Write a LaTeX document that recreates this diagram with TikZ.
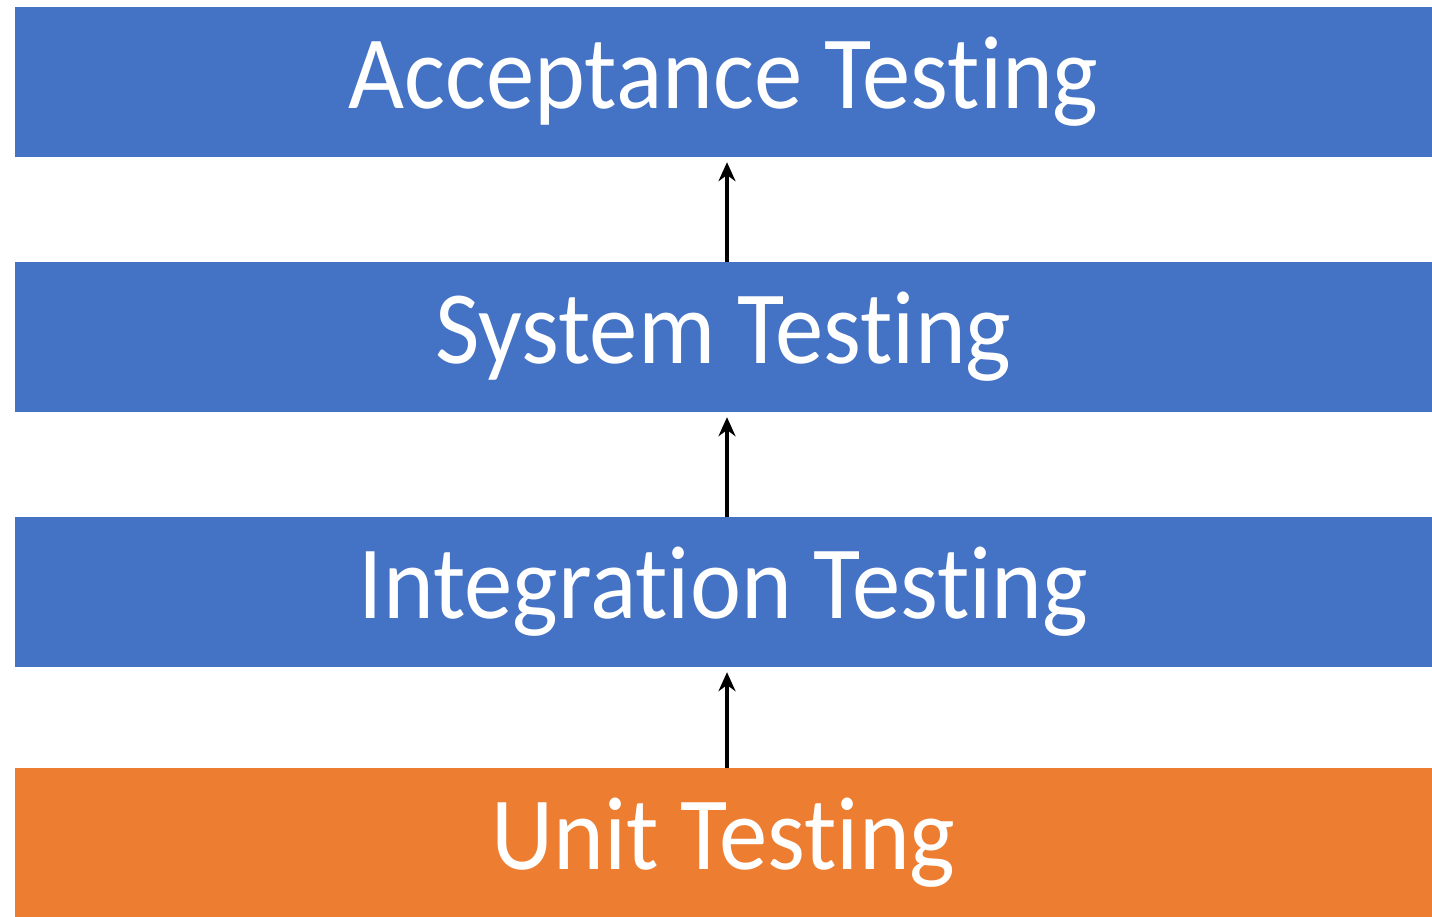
\documentclass[tikz,border=0pt]{standalone}
\usepackage{fontspec}
\setmainfont[FakeStretch=0.93, Ligatures=CommonOff]{Carlito}
\usetikzlibrary{arrows.meta}
\definecolor{levelblue}{HTML}{4472C4}
\definecolor{levelorange}{HTML}{ED7D31}
\begin{document}
\begin{tikzpicture}[x=1pt, y=-1pt, >={Stealth[length=19pt, width=17pt]}, every node/.style={align=center, text=white, font=\fontsize{104}{120}\selectfont}]

\useasboundingbox (0,0) rectangle (1432,917);

% Nodes
\node[fill=levelblue, rectangle, inner sep=0, minimum width=1417pt, minimum height=150pt] (acceptance) at (723.5,82) {Acceptance Testing};
\node[fill=levelblue, rectangle, inner sep=0, minimum width=1417pt, minimum height=150pt] (system) at (723.5,337) {System Testing};
\node[fill=levelblue, rectangle, inner sep=0, minimum width=1417pt, minimum height=150pt] (integration) at (723.5,592) {Integration Testing};
\node[fill=levelorange, rectangle, inner sep=0, minimum width=1417pt, minimum height=150pt] (unit) at (723.5,843) {Unit Testing};

% Edges
\draw[->, line width=3.5pt] ([xshift=3.5pt]unit.north) -- ([xshift=3.5pt, yshift=-5pt]integration.south);
\draw[->, line width=3.5pt] ([xshift=3.5pt]integration.north) -- ([xshift=3.5pt, yshift=-5pt]system.south);
\draw[->, line width=3.5pt] ([xshift=3.5pt]system.north) -- ([xshift=3.5pt, yshift=-5pt]acceptance.south);

\end{tikzpicture}
\end{document}
